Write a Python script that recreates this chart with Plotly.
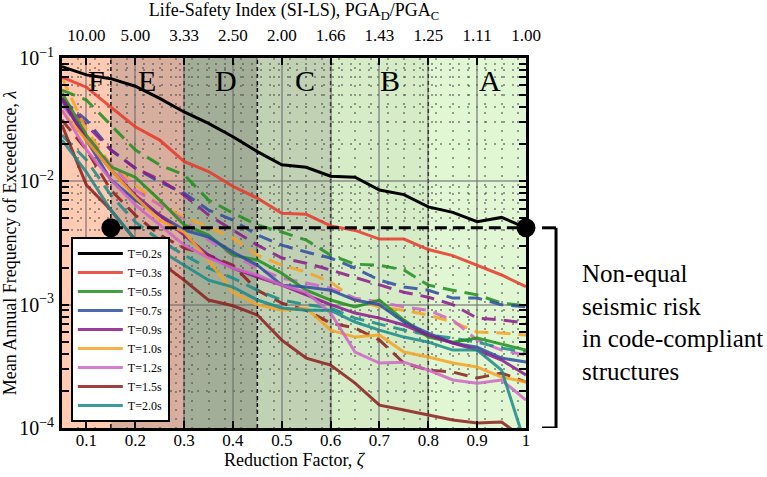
import plotly.graph_objects as go

# ---------------- data ----------------
zeta = [0.05, 0.10, 0.15, 0.20, 0.25, 0.30, 0.35, 0.40, 0.45, 0.50,
        0.55, 0.60, 0.65, 0.70, 0.75, 0.80, 0.85, 0.90, 0.95, 1.00]

T02_solid = [0.085, 0.073, 0.068, 0.059, 0.047, 0.0365, 0.0295, 0.023, 0.0174, 0.0136,
             0.0130, 0.0110, 0.0108, 0.0085, 0.0078, 0.0062, 0.0056, 0.0047, 0.0051, 0.0042]
T03_solid = [0.070, 0.058, 0.040, 0.0277, 0.0216, 0.0145, 0.012, 0.0091, 0.0073, 0.0055,
             0.0054, 0.00435, 0.0040, 0.0034, 0.0034, 0.0028, 0.0025, 0.0021, 0.00174, 0.0014]
T05_solid = [0.052, 0.0237, 0.0131, 0.0108, 0.00705, 0.00443, 0.00367, 0.00252, 0.0023, 0.0018,
             0.00131, 0.00109, 0.00096, 0.00109, 0.00075, 0.000546, 0.000497, 0.000536, 0.000479, 0.000428]
T05_dash = [0.055, 0.0456, 0.0286, 0.018, 0.0136, 0.0113, 0.00705, 0.00553, 0.00443, 0.00388,
            0.00334, 0.00252, 0.00213, 0.00209, 0.00191, 0.00144, 0.00131, 0.0012, 0.00103, 0.00098]
T07_solid = [0.0456, 0.0216, 0.0103, 0.00705, 0.00533, 0.00403, 0.00353, 0.00267, 0.00209, 0.00144,
             0.00139, 0.00131, 0.00109, 0.0010, 0.000723, 0.000589, 0.000489, 0.000453, 0.000369, 0.000342]
T07_dash = [0.0456, 0.0314, 0.018, 0.0128, 0.00987, 0.00804, 0.00585, 0.00485, 0.00367, 0.00304,
            0.00267, 0.00239, 0.00198, 0.00158, 0.00139, 0.00131, 0.00113, 0.00113, 0.0010, 0.00096]
T09_solid = [0.0474, 0.0216, 0.0124, 0.00774, 0.00533, 0.00367, 0.00252, 0.00198, 0.00167, 0.00144,
             0.0012, 0.0010, 0.000855, 0.000778, 0.000684, 0.000567, 0.000489, 0.000428, 0.000356, 0.000269]
T09_dash = [0.0474, 0.0286, 0.018, 0.0128, 0.0103, 0.00774, 0.00533, 0.00403, 0.00304, 0.00239,
            0.00217, 0.00191, 0.00167, 0.00144, 0.00126, 0.00115, 0.0010, 0.000778, 0.00075, 0.00071]
T10_solid = [0.0372, 0.0216, 0.0124, 0.00746, 0.00485, 0.00388, 0.0023, 0.00126, 0.0010, 0.0009,
             0.00094, 0.000622, 0.000546, 0.000567, 0.000413, 0.000376, 0.000336, 0.000312, 0.000259, 0.000236]
T10_dash = [0.0689, 0.0261, 0.0136, 0.00933, 0.00643, 0.00513, 0.00426, 0.00347, 0.00252, 0.00209,
            0.00184, 0.00153, 0.00109, 0.00096, 0.0009, 0.000824, 0.000723, 0.0006, 0.000589, 0.000567]
T12_solid = [0.0379, 0.018, 0.0103, 0.00643, 0.00443, 0.00304, 0.00239, 0.00198, 0.00174, 0.00144,
             0.00126, 0.000855, 0.000413, 0.000336, 0.000342, 0.000295, 0.000245, 0.000231, 0.000245, 0.000168]
T12_dash = [0.0416, 0.0237, 0.0136, 0.0085, 0.00643, 0.00485, 0.00334, 0.00252, 0.00198, 0.00164,
            0.0015, 0.00136, 0.00113, 0.00105, 0.00096, 0.0009, 0.00075, 0.000516, 0.000428, 0.00039]
T15_solid = [0.0286, 0.00933, 0.00585, 0.00334, 0.00222, 0.00158, 0.00109, 0.00098, 0.000824, 0.000516,
             0.000369, 0.000324, 0.000231, 0.000153, 0.00014, 0.000127, 0.000116, 0.00011, 0.000112, 0.00008]
T15_dash = [0.0314, 0.018, 0.0085, 0.00533, 0.00367, 0.00288, 0.00252, 0.00209, 0.00131, 0.00103,
            0.0009, 0.00071, 0.000646, 0.000516, 0.000336, 0.000295, 0.000284, 0.000254, 0.000279, 0.000236]
T20_solid = [0.0216, 0.0119, 0.00585, 0.00334, 0.00277, 0.00209, 0.00158, 0.00139, 0.00109, 0.00094,
             0.0009, 0.0009, 0.000723, 0.000622, 0.000546, 0.000497, 0.000428, 0.000428, 0.000295, 0.000071]
T20_dash = [0.0237, 0.0149, 0.00774, 0.00468, 0.00334, 0.00252, 0.00198, 0.00164, 0.00131, 0.00109,
            0.0010, 0.00094, 0.000778, 0.000696, 0.000622, 0.000567, 0.000536, 0.000497, 0.000445, 0.000413]

periods = ["T=0.2s", "T=0.3s", "T=0.5s", "T=0.7s", "T=0.9s", "T=1.0s", "T=1.2s", "T=1.5s", "T=2.0s"]
solid_series = [T02_solid, T03_solid, T05_solid, T07_solid, T09_solid, T10_solid, T12_solid, T15_solid, T20_solid]
dash_series = [None, None, T05_dash, T07_dash, T09_dash, T10_dash, T12_dash, T15_dash, T20_dash]

threshold_zeta = [0.15, 1.00]
threshold_value = 4.2e-3

zeta_ticks = [0.1, 0.2, 0.3, 0.4, 0.5, 0.6, 0.7, 0.8, 0.9, 1.0]
si_ls_labels = ["10.00", "5.00", "3.33", "2.50", "2.00", "1.66", "1.43", "1.25", "1.11", "1.00"]

zone_edges = [0.05, 0.15, 0.30, 0.45, 0.60, 0.80, 1.00]
zone_labels = ["F", "E", "D", "C", "B", "A"]

# ---------------- styles ----------------
colors = ["#000000", "#E8392B", "#1F8F1F", "#2E4DA0", "#8A1A8A",
          "#F6A323", "#D066C6", "#8B1E1E", "#1A8A8A"]
zone_colors = ["#FFCBB2", "#D8AE9E", "#A3AE98", "#C1D1B3", "#D5ECC7", "#E1F6D2"]
zone_label_x = [0.121, 0.225, 0.385, 0.548, 0.722, 0.926]
FONT = "Liberation Serif, Times New Roman, DejaVu Serif, serif"

fig = go.Figure()

# dashed companions (drawn first, no legend)
for name, col, ys in zip(periods, colors, dash_series):
    if ys is None:
        continue
    fig.add_trace(go.Scatter(x=zeta, y=ys, mode="lines", showlegend=False,
                             line=dict(color=col, width=3, dash="14px,8px"),
                             opacity=0.85, hoverinfo="skip"))

# solid lines (legend)
for name, col, ys in zip(periods, colors, solid_series):
    fig.add_trace(go.Scatter(x=zeta, y=ys, mode="lines", name=name,
                             line=dict(color=col, width=3),
                             opacity=1.0 if col == "#000000" else 0.85))

# code-compliant risk level
fig.add_trace(go.Scatter(x=threshold_zeta, y=[threshold_value] * len(threshold_zeta),
                         mode="lines+markers", showlegend=False, cliponaxis=False,
                         line=dict(color="black", width=3, dash="12px,6px"),
                         marker=dict(color="black", size=19)))

# invisible trace to carry the top axis
fig.add_trace(go.Scatter(x=zeta_ticks, y=[threshold_value] * len(zeta_ticks), xaxis="x2",
                         mode="lines", line=dict(width=0), showlegend=False, hoverinfo="skip"))

# zone backgrounds, boundaries and labels
shapes = []
for i in range(len(zone_labels)):
    shapes.append(dict(type="rect", xref="x", yref="paper", x0=zone_edges[i], x1=zone_edges[i + 1],
                       y0=0, y1=1, fillcolor=zone_colors[i], line=dict(width=0), layer="below"))
for e in zone_edges[1:-1]:
    shapes.append(dict(type="line", xref="x", yref="paper", x0=e, x1=e, y0=0, y1=1,
                       line=dict(color="black", width=1.5, dash="4px,3px"), layer="between"))

# bracket on the right
bx, btick = 1.0647, 1.0345
shapes += [
    dict(type="line", xref="paper", yref="y", x0=bx, x1=bx, y0=1e-4, y1=threshold_value,
         line=dict(color="black", width=3)),
    dict(type="line", xref="paper", yref="y", x0=btick, x1=bx, y0=threshold_value, y1=threshold_value,
         line=dict(color="black", width=3)),
    dict(type="line", xref="paper", yref="y", x0=btick, x1=bx, y0=1e-4, y1=1e-4,
         line=dict(color="black", width=3)),
]

annotations = []
for lab, lx in zip(zone_labels, zone_label_x):
    annotations.append(dict(x=lx, y=0.94, xref="x", yref="paper", text=lab, showarrow=False,
                            font=dict(family=FONT, size=30, color="black"),
                            xanchor="center", yanchor="middle"))
annotations.append(dict(x=1.116, y=0.285, xref="paper", yref="paper",
                        text="Non-equal<br>seismic risk<br>in code-compliant<br>structures",
                        showarrow=False, align="left", xanchor="left", yanchor="middle",
                        font=dict(family=FONT, size=25, color="black")))

fig.update_layout(
    width=767, height=477,
    margin=dict(l=62, r=241, t=58, b=49, autoexpand=False),
    paper_bgcolor="white", plot_bgcolor="white",
    font=dict(family=FONT, size=17, color="black"),
    shapes=shapes, annotations=annotations,
    legend=dict(x=0.019, y=0.016, xanchor="left", yanchor="bottom",
                bgcolor="white", bordercolor="black", borderwidth=2,
                font=dict(family=FONT, size=12, color="black"),
                itemwidth=45, tracegroupgap=0),
    xaxis=dict(range=[0.05, 1.0], tickvals=zeta_ticks, automargin=False,
               ticks="inside", ticklen=7, tickwidth=2, tickcolor="black",
               showline=True, linewidth=2.5, linecolor="black", mirror="allticks",
               showgrid=True, gridcolor="rgba(110,110,110,0.55)", gridwidth=1.5,
               minor=dict(dtick=1 / 30, tick0=1 / 60, showgrid=True,
                          gridcolor="rgba(80,80,80,0.55)", gridwidth=2, griddash="2px,7px"),
               zeroline=False, ticklabelstandoff=-5,
               tickfont=dict(family=FONT, size=17),
               title=dict(text="Reduction Factor, <i>ζ</i>", font=dict(family=FONT, size=18),
                          standoff=0)),
    xaxis2=dict(overlaying="x", side="top", range=[0.05, 1.0], tickvals=zeta_ticks,
                ticktext=si_ls_labels, ticks="", showgrid=False, showline=False,
                zeroline=False, ticklabelstandoff=13, automargin=False,
                tickfont=dict(family=FONT, size=17),
                title=dict(text="Life-Safety Index (SI-LS), PGA<sub>D</sub>/PGA<sub>C</sub>",
                           font=dict(family=FONT, size=18), standoff=4)),
    yaxis=dict(type="log", range=[-4, -1], dtick=1, exponentformat="power", automargin=False,
               ticks="inside", ticklen=7, tickwidth=2, tickcolor="black",
               showline=True, linewidth=2.5, linecolor="black", mirror="allticks",
               showgrid=True, gridcolor="rgba(110,110,110,0.55)", gridwidth=1.5,
               minor=dict(dtick="D1", ticks="inside", ticklen=4, tickwidth=2, tickcolor="black",
                          showgrid=True, gridcolor="rgba(80,80,80,0.55)", gridwidth=2,
                          griddash="2px,7px"),
               zeroline=False, ticklabelstandoff=2,
               tickfont=dict(family=FONT, size=16),
               title=dict(text="Mean Annual Frequency of Exceedence, <i>λ</i>",
                          font=dict(family=FONT, size=18), standoff=6)),
    hovermode=False,
)

fig.write_html("out.html")
